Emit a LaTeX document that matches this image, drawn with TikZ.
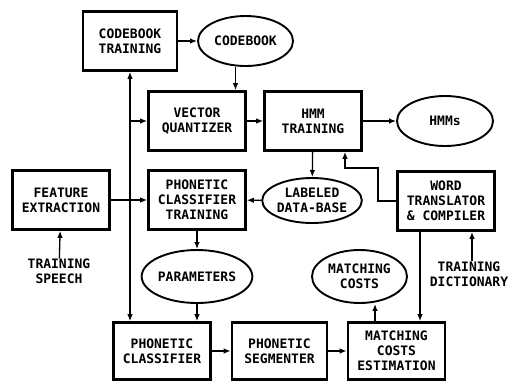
\documentclass[tikz,border=0pt]{standalone}
\usepackage{fontspec}
\setmonofont{DejaVu Sans Mono}
\usetikzlibrary{shapes.geometric,arrows.meta,calc}
\tikzset{
  lbl/.style={font={\ttfamily\bfseries\fontsize{13}{15}\selectfont},align=center,inner sep=0pt},
  blk/.style={lbl,draw,line width=2.6pt,minimum width=97pt,minimum height=59pt},
  oval/.style={lbl,draw,ellipse,line width=1.9pt,minimum width=95pt,minimum height=50pt},
  flow/.style={line width=1.3pt,-{Latex[length=7pt,width=5.5pt]}}
}
\begin{document}
\begin{tikzpicture}[x=1pt,y=-1pt]
\useasboundingbox (0,0) rectangle (510,381);
%boxes
\node[blk,minimum width=94pt] (cbt) at (130,41) {CODEBOOK\\TRAINING};
\node[blk] (vq) at (197,121) {VECTOR\\QUANTIZER};
\node[blk] (hmmt) at (313,121) {HMM\\TRAINING};
\node[blk] (fe) at (61,200) {FEATURE\\EXTRACTION};
\node[blk] (pct) at (197,200) {PHONETIC\\CLASSIFIER\\TRAINING};
\node[blk] (wt) at (446,201) {WORD\\TRANSLATOR\\\& COMPILER};
\node[blk,minimum height=57pt] (pc) at (162,351) {PHONETIC\\CLASSIFIER};
\node[blk,minimum width=95pt,minimum height=57pt] (ps) at (279.5,351) {PHONETIC\\SEGMENTER};
\node[blk,minimum height=57pt] (mce) at (396.5,351) {MATCHING\\COSTS\\ESTIMATION};
%ovals
\node[oval] (cb) at (245.5,41) {CODEBOOK};
\node[oval,minimum width=96pt] (hmms) at (445,121) {HMMs};
\node[oval,minimum width=97pt,minimum height=45pt] (ldb) at (312,200.5) {LABELED\\DATA-BASE};
\node[oval,minimum width=97pt,minimum height=53pt] (par) at (197,276.5) {PARAMETERS};
\node[oval,minimum height=53pt] (mc) at (359.5,276.5) {MATCHING\\COSTS};
%inputs
\node[lbl] (ts) at (59,271) {TRAINING\\SPEECH};
\node[lbl] (td) at (469,274) {TRAINING\\DICTIONARY};
\coordinate (bend) at (378,168);
%arrows
\draw[flow] (cbt) -- (cb);
\draw[flow] ([xshift=-10pt]cb.south) -- ([xshift=-10pt]cb.south |- vq.north);
\draw[flow] (vq) -- (hmmt);
\draw[flow] (hmmt) -- (hmms);
\draw[flow] (hmmt) -- (ldb);
\draw[flow] (wt.west) -| (bend) -| ([xshift=32pt]hmmt.south);
\draw[flow] (ldb) -- (pct);
\draw[flow] (fe) -- (pct);
\draw[flow] (ts) -- (fe);
\draw[flow] (pct) -- (par);
\draw[flow] (par.south) -- (par.south |- pc.north);
\draw[flow,{Latex[length=7pt,width=5.5pt]}-{Latex[length=7pt,width=5.5pt]}] (cbt.south) -- (cbt.south |- pc.north);
\draw[flow] (cbt.south |- vq.west) -- (vq.west);
\draw[flow] (pc) -- (ps);
\draw[flow] (ps) -- (mce);
\draw[flow] ([xshift=-21.5pt]mce.north) -- ([xshift=-21.5pt]mce.north |- mc.south);
\draw[flow] ([xshift=-26pt]wt.south) -- ([xshift=-26pt]wt.south |- mce.north);
\draw[flow] ([xshift=3pt]td.north) -- ([xshift=3pt]td.north |- wt.south);
\end{tikzpicture}
\end{document}
